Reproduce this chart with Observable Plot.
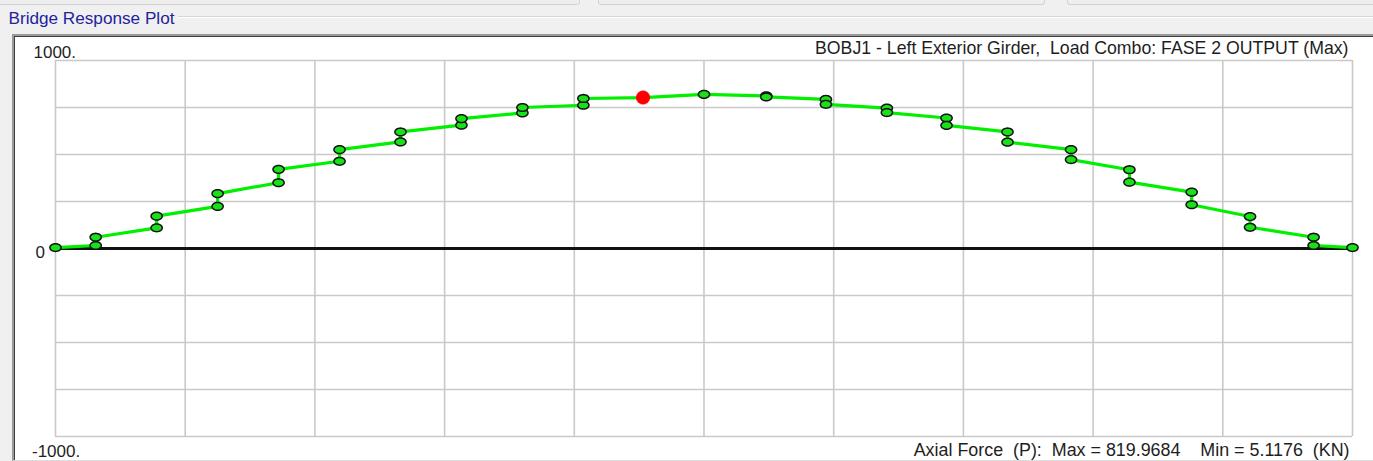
<!DOCTYPE html>
<html>
<head>
<meta charset="utf-8">
<script src="https://cdn.jsdelivr.net/npm/d3@7"></script>
<script src="https://cdn.jsdelivr.net/npm/@observablehq/plot@0.6"></script>
<style>
  html, body { margin: 0; padding: 0; }
  body { width: 1373px; height: 461px; background: #f0f0f0; position: relative; overflow: hidden;
         font-family: "Liberation Sans", Arial, sans-serif; }
  .tab { position: absolute; top: -10px; height: 13px; border: 1px solid #d2d2d2; border-radius: 3px; background: #eeeeee; }
  #grpline { position: absolute; left: 178px; top: 16px; width: 1400px; height: 0; border-top: 1px solid #d6d6d6; border-bottom: 1px solid #ffffff; }
  #panel { position: absolute; left: 12px; top: 34px; width: 1400px; height: 424px; background: #ffffff;
           border-top: 2px solid #9a9a9a; border-left: 2px solid #9a9a9a; border-bottom: 1px solid #dcdcdc;
           box-shadow: inset 1px 1px 0 #404040; }
  #chart { position: absolute; left: 0; top: 0; }
  #chart svg text { white-space: pre; }
</style>
</head>
<body>
<div class="tab" style="left:-4px;width:582px"></div>
<div class="tab" style="left:598px;width:445px"></div>
<div class="tab" style="left:1067px;width:320px"></div>
<div id="grpline"></div>
<div id="panel"></div>
<div id="chart"></div>
<script>
// ---- data ----
const stationX = [0, 0.31, 0.78, 1.25, 1.72, 2.19, 2.66, 3.13, 3.60, 4.07, 4.53, 5.00,
                  5.48, 5.94, 6.41, 6.87, 7.34, 7.83, 8.28, 8.76, 9.21, 9.70, 10.0];
// value reached first along the line at each station, then the value after the jump
const forceIn  = [5, 16, 110, 224, 350, 464, 567, 656, 721, 762, 803, 820,
                  812, 793, 747, 694, 620, 526, 419, 300, 170, 60, 5];
const forceOut = [5, 60, 172, 292, 421, 526, 620, 691, 750, 798, 803, 820,
                  806, 767, 723, 655, 566, 473, 353, 233, 113, 16, 5];
const selectedX = [4.53];
const selectedValue = [803];
const xGrid = [0, 1, 2, 3, 4, 5, 6, 7, 8, 9, 10];
const yGrid = [1000, 750, 500, 250, -250, -500, -750, -1000];
const yTickValues = [1000, 0, -1000];
const yTickLabels = ["1000.", "0", "-1000."];
const groupText = "Bridge Response Plot";
const titleText = "BOBJ1 - Left Exterior Girder,  Load Combo: FASE 2 OUTPUT (Max)";
const footerText = "Axial Force  (P):  Max = 819.9684    Min = 5.1176  (KN)";

const fontFamily = "'Liberation Sans', Arial, sans-serif";
const ink = "#1e1e1e";

// font size that makes a text span the width it has in the reference
const measureCtx = document.createElement("canvas").getContext("2d");
function fitSize(text, width) {
  measureCtx.font = `100px ${fontFamily}`;
  const w = measureCtx.measureText(text).width;
  return Math.max(10, Math.min(22, 100 * width / w));
}

// path through both values of each station
const path = [];
stationX.forEach((x, i) => {
  path.push({x, v: forceIn[i]});
  if (forceOut[i] !== forceIn[i]) path.push({x, v: forceOut[i]});
});
const selected = selectedX.map((x, i) => ({x, v: selectedValue[i]}));

const ellipse = {
  draw(ctx, size) {
    const r = Math.sqrt(size / Math.PI);
    const rx = r * 1.3, ry = r * 0.9, n = 32;
    for (let k = 0; k <= n; k++) {
      const a = (k / n) * 2 * Math.PI;
      const px = rx * Math.cos(a), py = ry * Math.sin(a);
      if (k === 0) ctx.moveTo(px, py); else ctx.lineTo(px, py);
    }
    ctx.closePath();
  }
};

const gridColor = "#c9c9c9";

const chart = Plot.plot({
  width: 1373,
  height: 461,
  marginLeft: 55,
  marginRight: 21,
  marginTop: 60,
  marginBottom: 25,
  style: {background: "transparent", fontFamily: fontFamily, fontSize: "17px", color: ink},
  x: {domain: [0, 10], axis: null},
  y: {domain: [-1000, 1000], axis: null},
  marks: [
    Plot.ruleX(xGrid, {stroke: gridColor, strokeWidth: 1.6}),
    Plot.ruleY(yGrid, {stroke: gridColor, strokeWidth: 1.6}),
    Plot.ruleY([0], {stroke: "#111111", strokeWidth: 3}),
    Plot.line(path, {x: "x", y: "v", stroke: "#00f000", strokeWidth: 3.2}),
    Plot.dot(path, {x: "x", y: "v", r: 4.3, symbol: ellipse, fill: "#19e019", stroke: "#111111", strokeWidth: 1.5}),
    Plot.dot(selected, {x: "x", y: "v", r: 6.8, fill: "#ff0000", stroke: "#ff0000", strokeWidth: 0.5}),
    Plot.text([yTickLabels[0]], {x: () => 0, y: () => yTickValues[0], text: d => d, textAnchor: "start", lineAnchor: "middle", dx: -22, dy: -8, fontSize: 17, fill: ink}),
    Plot.text([yTickLabels[1]], {x: () => 0, y: () => yTickValues[1], text: d => d, textAnchor: "start", lineAnchor: "middle", dx: -20, dy: 4, fontSize: 17, fill: ink}),
    Plot.text([yTickLabels[2]], {x: () => 0, y: () => yTickValues[2], text: d => d, textAnchor: "start", lineAnchor: "middle", dx: -23.5, dy: 15.5, fontSize: 17, fill: ink}),
    Plot.text([titleText], {frameAnchor: "top-right", text: d => d, textAnchor: "end", lineAnchor: "middle", dx: -4, dy: -12.5, fontSize: fitSize(titleText, 534), fill: ink}),
    Plot.text([footerText], {frameAnchor: "bottom-right", text: d => d, textAnchor: "end", lineAnchor: "middle", dx: -3, dy: 13.5, fontSize: fitSize(footerText, 436), fill: ink}),
    Plot.text([groupText], {frameAnchor: "top-left", text: d => d, textAnchor: "start", lineAnchor: "middle", dx: -47, dy: -42, fontSize: fitSize(groupText, 166), fill: "#23239e"})
  ]
});
document.getElementById("chart").appendChild(chart);
</script>
</body>
</html>
